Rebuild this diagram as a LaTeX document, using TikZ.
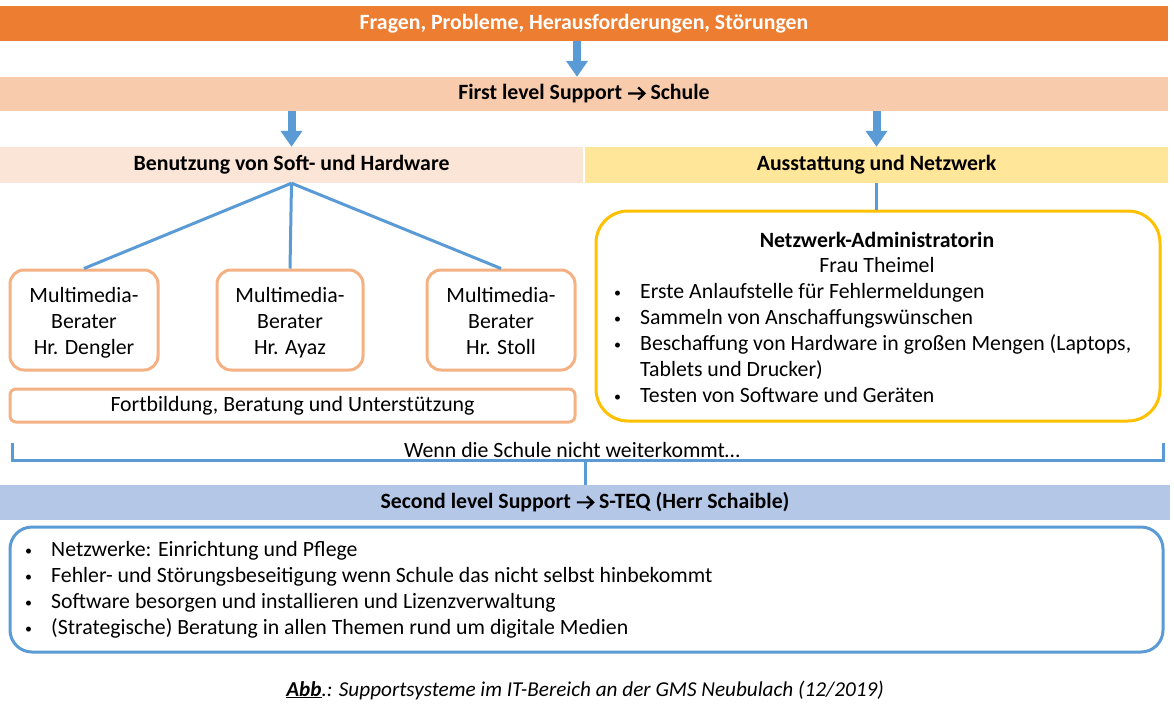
\documentclass[tikz,border=0pt]{standalone}
\usepackage{fontspec}
\setmainfont{Carlito}
\usetikzlibrary{arrows.meta}
\definecolor{orangeA}{HTML}{ED7D31}
\definecolor{peachA}{HTML}{F8CBAD}
\definecolor{peachB}{HTML}{FBE5D6}
\definecolor{yellowA}{HTML}{FFE699}
\definecolor{boxorange}{HTML}{F4B183}
\definecolor{goldA}{HTML}{FFC000}
\definecolor{blueA}{HTML}{5B9BD5}
\definecolor{blueB}{HTML}{B4C7E7}
\tikzset{
  bar/.style={draw=none, inner sep=0pt, font=\fontsize{21.8}{26}\selectfont\bfseries},
  bigarrow/.style={draw=blueA, line width=8pt, -{Triangle[width=21pt,length=16pt]}},
  bluel/.style={draw=blueA, line width=3pt},
  mmbox/.style={draw=boxorange, line width=3pt, rounded corners=14pt, align=center,
     font=\fontsize{21.8}{26}\selectfont, inner sep=0pt},
  txt/.style={inner sep=0pt, font=\fontsize{21.8}{26}\selectfont},
  item/.style={inner sep=0pt, anchor=west, font=\fontsize{21.8}{26}\selectfont, align=left}
}
\newcommand{\bul}{\makebox[26pt][l]{\raisebox{1pt}{\fontsize{14}{14}\selectfont •}}}
\newcommand{\txtarrow}{\tikz[x=1pt,y=1pt,baseline=0pt]\draw[line width=2.2pt, line join=miter, line cap=butt] (0,6.5)--(16,6.5) (10,12.5)--(16.3,6.5)--(10,0.5);}
\newcommand{\topstrut}{\rule{0pt}{24pt}}
\begin{document}
\begin{tikzpicture}[x=1pt,y=-1pt]
\useasboundingbox (0,0) rectangle (1174,720);
% bars
\node[bar, fill=orangeA, text=white, minimum width=1168pt, minimum height=35pt] (fragen) at (584,23.5) {Fragen, Probleme, Herausforderungen, Störungen};
\node[bar, fill=peachA, minimum width=1168pt, minimum height=34pt] (first) at (584,94) {First level Support \txtarrow\ Schule};
\node[bar, fill=peachB, minimum width=583pt, minimum height=36pt] (benutz) at (291.5,165) {Benutzung von Soft- und Hardware};
\node[bar, fill=yellowA, minimum width=583pt, minimum height=36pt] (ausst) at (876.5,165) {Ausstattung und Netzwerk};
% arrows
\draw[bigarrow] ([xshift=-7pt]fragen.south) -- ([xshift=-7pt]first.north);
\draw[bigarrow] (first.south -| benutz.north) -- (benutz.north);
\draw[bigarrow] (first.south -| ausst.north) -- (ausst.north);
% multimedia boxes
\node[mmbox, minimum width=148pt, minimum height=100pt] (mm1) at (84,320) {\topstrut Multimedia-\\Berater\\Hr. Dengler\strut};
\node[mmbox, minimum width=146pt, minimum height=100pt] (mm2) at (290,320) {\topstrut Multimedia-\\Berater\\Hr. Ayaz\strut};
\node[mmbox, minimum width=148pt, minimum height=100pt] (mm3) at (501,320) {\topstrut Multimedia-\\Berater\\Hr. Stoll\strut};
\draw[bluel] (benutz.south) -- (mm1.north);
\draw[bluel] (benutz.south) -- (mm2.north);
\draw[bluel] (benutz.south) -- (mm3.north);
\node[mmbox, rounded corners=6pt, minimum width=565pt, minimum height=33pt] (fort) at (292.5,405.5) {Fortbildung, Beratung und Unterstützung};
% network box
\node[draw=goldA, line width=3pt, rounded corners=32pt, minimum width=564pt, minimum height=210pt, inner sep=0pt] (netz) at (878,316) {};
\draw[bluel] (ausst.south) -- (ausst.south |- netz.north);
\node[txt, font=\fontsize{21.8}{26}\selectfont\bfseries] (netzt) at (877,240) {Netzwerk-Administratorin};
\node[txt] (netzn) at (877,265) {Frau Theimel};
\node[item] (netzl) at (614,343) {\bul Erste Anlaufstelle für Fehlermeldungen\\
\bul Sammeln von Anschaffungswünschen\\
\bul Beschaffung von Hardware in großen Mengen (Laptops,\\
\hspace*{26pt}Tablets und Drucker)\\
\bul Testen von Software und Geräten};
% bracket
\coordinate (brL) at (12,443);
\coordinate (brLb) at (12,460);
\coordinate (brR) at (1163,443);
\coordinate (brRb) at (1163,460);
\coordinate (brM) at (585,460);
\draw[bluel] (brL) -- (brLb) -- (brRb) -- (brR);
\node[txt, fill=white, inner xsep=2pt] (wenn) at (572,450) {Wenn die Schule nicht weiterkommt…};
\node[bar, fill=blueB, minimum width=1170pt, minimum height=35pt] (second) at (585,502.5) {Second level Support \txtarrow\ S-TEQ (Herr Schaible)};
\draw[bluel] (brM) -- (brM |- second.north);
% bottom box
\node[draw=blueA, line width=3pt, rounded corners=22pt, minimum width=1153pt, minimum height=125pt, inner sep=0pt] (sbox) at (586.5,589.5) {};
\node[item] (slist) at (25,589.5) {\bul Netzwerke: Einrichtung und Pflege\\
\bul Fehler- und Störungsbeseitigung wenn Schule das nicht selbst hinbekommt\\
\bul Software besorgen und installieren und Lizenzverwaltung\\
\bul (Strategische) Beratung in allen Themen rund um digitale Medien};
% caption
\node[txt, font=\fontsize{21.2}{24}\selectfont\itshape] (cap) at (585,690) {\underline{\textbf{Abb}}.: Supportsysteme im IT-Bereich an der GMS Neubulach (12/2019)};
\end{tikzpicture}
\end{document}
